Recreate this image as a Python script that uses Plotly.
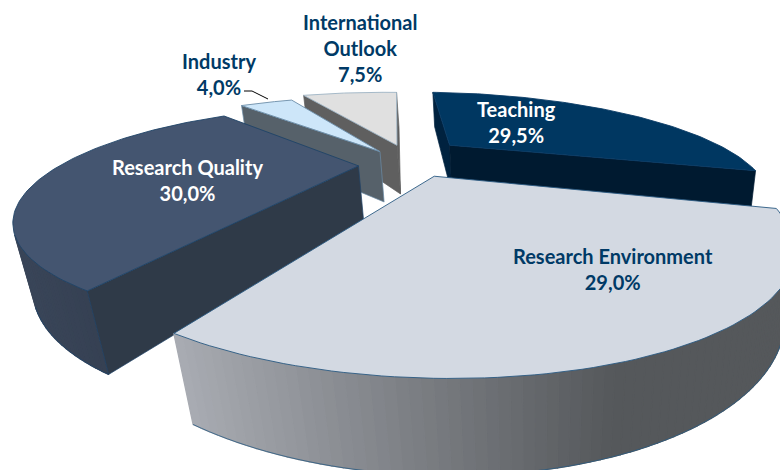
import numpy as np
import plotly.graph_objects as go

# ---- chart data ----
names = ["Teaching", "Research Environment", "Research Quality", "Industry", "International Outlook"]
values = [29.5, 29.0, 30.0, 4.0, 7.5]
label_text = ["Teaching<br>29,5%", "Research Environment<br>29,0%", "Research Quality<br>30,0%",
              "Industry<br>4,0%", "International<br>Outlook<br>7,5%"]

# ---- styling ----
top_colors = ["#003761", "#D3D9E2", "#445570", "#CDE6F9", "#E0E0E0"]
wall_colors = ["#001A30", "#55585B", "#2F3A48", "#56616A", "#5F5F5F"]
rim_left = ["#00223F", "#A9ACB3", "#3A4659", "#56616A", "#5F5F5F"]
rim_right = ["#001A30", "#55585B", "#323C4E", "#56616A", "#5F5F5F"]
edge_colors = ["#0B3C66", "#2A5A82", "#1F4468", "#6C8DA8", "#9DB3C4"]
label_col = ["white", "#003A66", "white", "#003A66", "#003A66"]
label_xy = [(516, 122), (613, 269), (187, 180), (219, 74), (360, 48)]

# ---- 3D view of the pie: camera matrix, rotation, slice explosion ----
P = np.array([[355.86094, 30.83983, -15.13436, 405.9717],
              [1.18493, -13.49222, -57.68526, 157.95873],
              [0.23537, 0.40198, -0.02836, 1.0]])
th0 = 0.45382
ex = [0.2204, -0.0089, -0.18053, -0.04823, 0.04233]
ey = [0.07608, -0.21243, -0.01352, 0.10765, 0.15613]
rad = [1.05051, 0.98417, 0.93027, 0.99746, 1.04195]

v = np.array(values)
edges = np.concatenate([[0], np.cumsum(v)]) / v.sum() * 2 * np.pi + th0


def proj(i, angles, r, z):
    a = np.asarray(angles, float)
    h = np.stack([ex[i] + r * rad[i] * np.sin(a), ey[i] + r * rad[i] * np.cos(a),
                  z * np.ones_like(a), np.ones_like(a)])
    w = P[2] @ h
    return (P[0] @ h) / w, (P[1] @ h) / w


def hexrgb(h):
    return np.array([int(h[k:k + 2], 16) for k in (1, 3, 5)], float)


def area(u, w):
    u, w = np.asarray(u, float), np.asarray(w, float)
    return float(np.sum(u * np.roll(w, -1) - np.roll(u, -1) * w))


def poly(fig, u, w, fill, line=None, lw=1.0):
    fig.add_trace(go.Scatter(x=u, y=w, mode="lines", fill="toself", fillcolor=fill,
                             line=dict(color=line or fill, width=lw), hoverinfo="skip"))


fig = go.Figure()
for i in [4, 3, 0, 2, 1]:
    t = np.linspace(edges[i], edges[i + 1], 90)
    ut, wt = proj(i, t, 1.0, 0)
    ub, wb = proj(i, t, 1.0, -1)
    at, bt = proj(i, [0.0], 0.0, 0)
    ab, bb = proj(i, [0.0], 0.0, -1)
    # outer curved side, only the segments that face the viewer
    lo, hi = min(ut.min(), ub.min()), max(ut.max(), ub.max())
    cl, cr = hexrgb(rim_left[i]), hexrgb(rim_right[i])
    lx, ly = [], []
    for j in range(len(t) - 1):
        su = [ut[j], ut[j + 1], ub[j + 1], ub[j]]
        sw = [wt[j], wt[j + 1], wb[j + 1], wb[j]]
        if area(su, sw) > 0:
            continue
        f = np.clip(((ut[j] + ut[j + 1]) / 2 - lo) / (hi - lo) * 1.4, 0, 1)
        col = "rgb(%d,%d,%d)" % tuple(cl + (cr - cl) * f)
        poly(fig, su + su[:1], sw + sw[:1], col, None, 1.3)
        lx += [ub[j], ub[j + 1], None]
        ly += [wb[j], wb[j + 1], None]
    fig.add_trace(go.Scatter(x=lx, y=ly, mode="lines", line=dict(color=edge_colors[i], width=0.8), hoverinfo="skip"))
    # flat cut walls, only those facing the viewer
    for k, sign in ((0, -1), (-1, 1)):
        qu = [at[0], ut[k], ub[k], ab[0]]
        qw = [bt[0], wt[k], wb[k], bb[0]]
        if area(qu, qw) * sign <= 0:
            continue
        shade = rim_left[i] if (k == 0 and i == 0) else wall_colors[i]
        poly(fig, qu + qu[:1], qw + qw[:1], shade, edge_colors[i] if i in (2, 3) else None, 0.7)
    # top face
    poly(fig, np.r_[at, ut, at], np.r_[bt, wt, bt], top_colors[i], edge_colors[i], 0.9)

for s, (x, y), col in zip(label_text, label_xy, label_col):
    fig.add_annotation(x=x, y=y, text="<b>%s</b>" % s, showarrow=False, align="center",
                       font=dict(family="Lato", size=20, color=col))
fig.add_trace(go.Scatter(x=[244, 252, 268], y=[91, 91, 99], mode="lines", line=dict(color="black", width=1), hoverinfo="skip"))

fig.update_layout(width=780, height=470, margin=dict(l=0, r=0, t=0, b=0), showlegend=False,
                  plot_bgcolor="white", paper_bgcolor="white",
                  xaxis=dict(range=[0, 780], visible=False), yaxis=dict(range=[470, 0], visible=False))
fig.write_html("out.html", config={"displayModeBar": False}, post_script="document.body.style.margin='0';")
